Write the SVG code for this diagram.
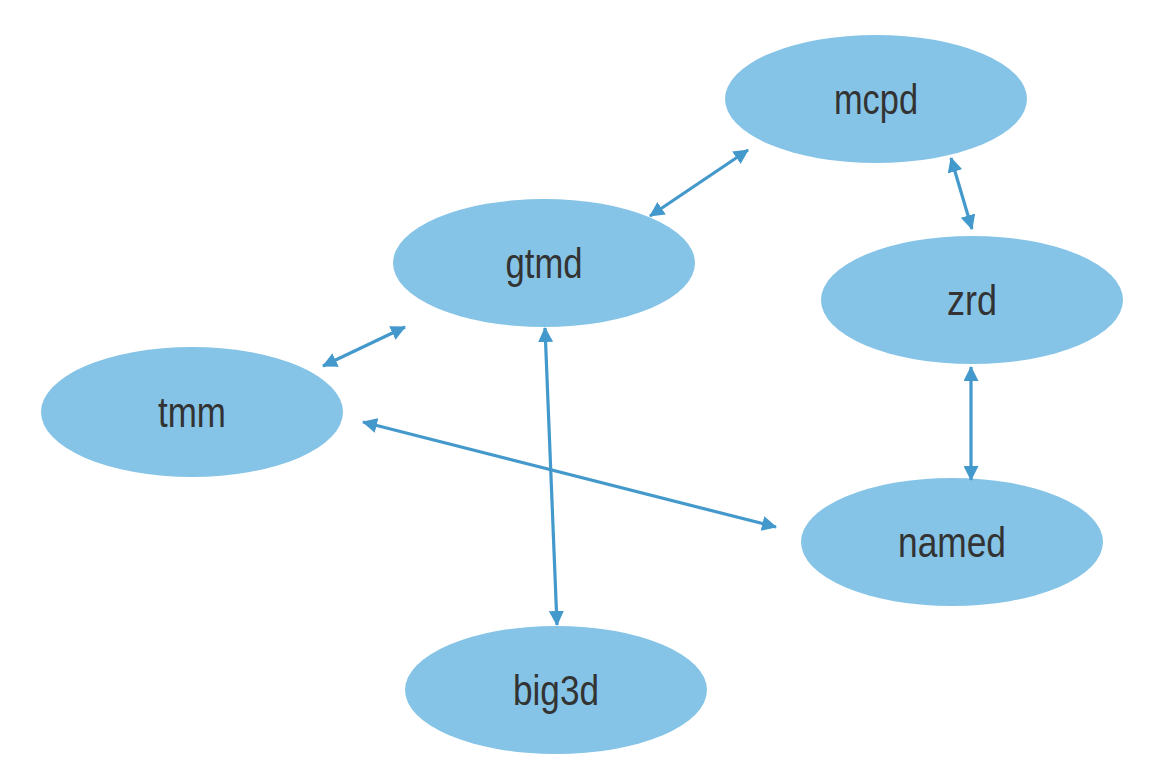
<svg xmlns="http://www.w3.org/2000/svg" width="1158" height="766" viewBox="0 0 1158 766">
<style>
.n ellipse{fill:#85c4e7;}
.n text{font-family:"Liberation Sans",Arial,sans-serif;font-size:42px;fill:#333333;text-anchor:middle;}
.c line{stroke:#4499cc;stroke-width:3.2;marker-start:url(#ah);marker-end:url(#ah);}
</style>
<defs>
<marker id="ah" markerUnits="userSpaceOnUse" markerWidth="15" markerHeight="15" refX="14" refY="7.5" orient="auto-start-reverse" viewBox="0 0 15 15">
<path d="M0,0 L15,7.5 L0,15 z" fill="#4499cc"/>
</marker>
</defs>
<rect width="1158" height="766" fill="#ffffff"/>
<g id="mcpd" class="n"><ellipse cx="876" cy="99" rx="151" ry="64"/><text x="876" y="114" textLength="84" lengthAdjust="spacingAndGlyphs">mcpd</text></g>
<g id="gtmd" class="n"><ellipse cx="544" cy="263" rx="151" ry="64"/><text x="544" y="278" textLength="77" lengthAdjust="spacingAndGlyphs">gtmd</text></g>
<g id="zrd" class="n"><ellipse cx="972" cy="300" rx="151" ry="64"/><text x="972" y="315" textLength="50" lengthAdjust="spacingAndGlyphs">zrd</text></g>
<g id="tmm" class="n"><ellipse cx="192" cy="412" rx="151" ry="65"/><text x="192" y="427" textLength="68" lengthAdjust="spacingAndGlyphs">tmm</text></g>
<g id="named" class="n"><ellipse cx="952" cy="542" rx="151" ry="64"/><text x="952" y="557" textLength="108" lengthAdjust="spacingAndGlyphs">named</text></g>
<g id="big3d" class="n"><ellipse cx="556" cy="690" rx="151" ry="64"/><text x="556" y="705" textLength="86" lengthAdjust="spacingAndGlyphs">big3d</text></g>
<g id="connectors" class="c">
<line x1="650" y1="216" x2="748" y2="150"/>
<line x1="951" y1="158" x2="972" y2="229"/>
<line x1="405" y1="327" x2="323" y2="366"/>
<line x1="545" y1="328" x2="557" y2="625"/>
<line x1="363" y1="422" x2="776" y2="527"/>
<line x1="971" y1="367" x2="971" y2="480"/>
</g>
</svg>
